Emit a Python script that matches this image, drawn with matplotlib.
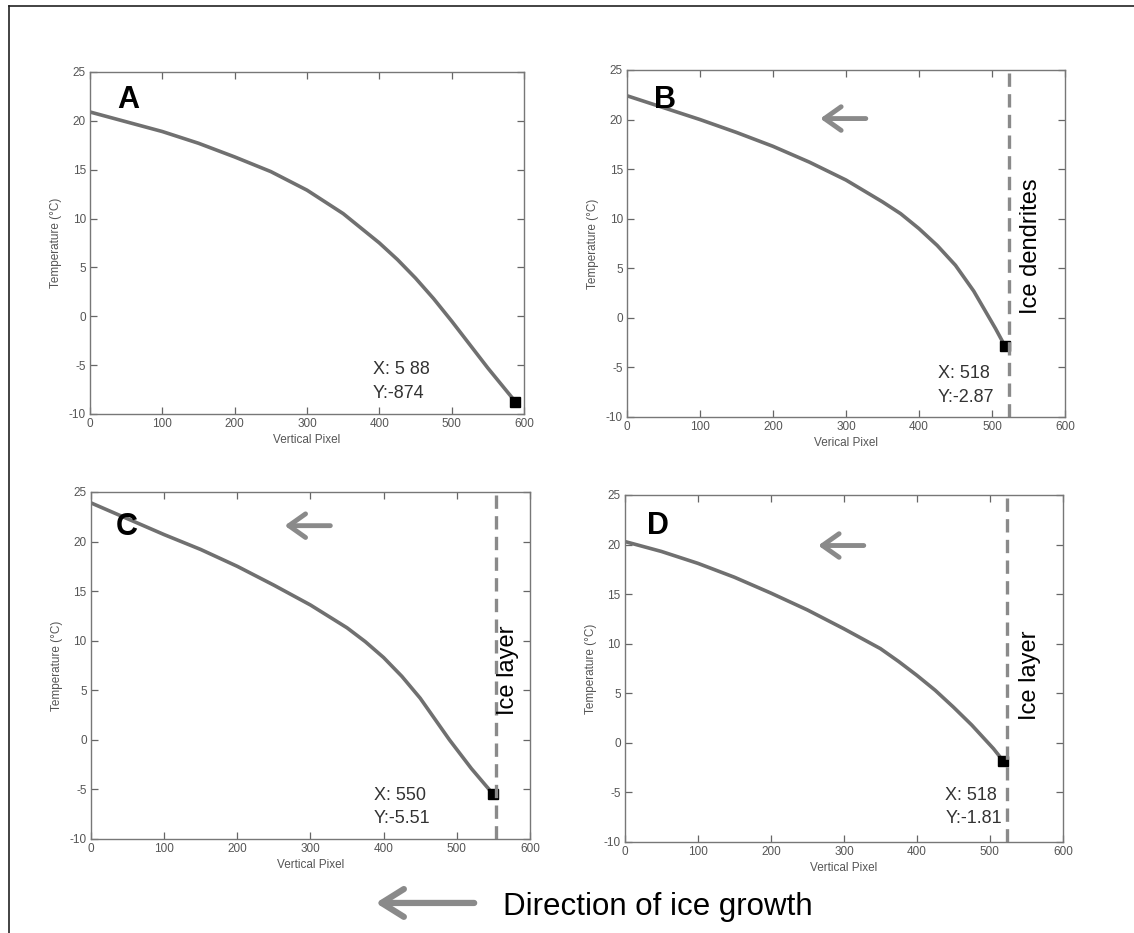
import matplotlib
matplotlib.use("Agg")
import matplotlib.pyplot as plt
from matplotlib.lines import Line2D
from matplotlib.patches import FancyArrowPatch

plt.rcParams["font.family"] = ["Liberation Sans", "DejaVu Sans"]
plt.rcParams["axes.unicode_minus"] = False

# ── data ───────────────────────────────────────────────────────────
a_x = [0, 50, 100, 150, 200, 250, 300, 350, 400, 425, 450, 475, 500, 550, 588]
a_y = [20.9, 19.9, 18.9, 17.7, 16.3, 14.8, 12.9, 10.5, 7.5, 5.8, 3.9, 1.8, -0.5, -5.3, -8.74]

b_x = [0, 50, 100, 150, 200, 250, 300, 350, 375, 400, 425, 450, 475, 490, 505, 518]
b_y = [22.4, 21.2, 20.0, 18.7, 17.3, 15.7, 13.9, 11.7, 10.5, 9.0, 7.3, 5.3, 2.7, 0.8, -1.1, -2.87]

c_x = [0, 50, 100, 150, 200, 250, 300, 350, 375, 400, 425, 450, 470, 490, 520, 550]
c_y = [23.9, 22.3, 20.7, 19.2, 17.5, 15.6, 13.6, 11.3, 9.9, 8.3, 6.4, 4.2, 2.1, 0.0, -2.9, -5.51]

d_x = [0, 50, 100, 150, 200, 250, 300, 350, 375, 400, 425, 450, 475, 490, 505, 518]
d_y = [20.3, 19.3, 18.1, 16.7, 15.1, 13.4, 11.5, 9.5, 8.2, 6.8, 5.3, 3.6, 1.8, 0.6, -0.6, -1.81]

panel_letters = ["A", "B", "C", "D"]
cursor_texts = ["X: 5 88\nY:-874", "X: 518\nY:-2.87", "X: 550\nY:-5.51", "X: 518\nY:-1.81"]
x_labels = ["Vertical Pixel", "Verical Pixel", "Vertical Pixel", "Vertical Pixel"]
boundary_x = [None, 524, 553, 524]
boundary_labels = [None, "Ice dendrites", "Ice layer", "Ice layer"]

# ── layout (from the picture) ──────────────────────────────────────
positions = [
    [0.0794, 0.5563, 0.3827, 0.3666],
    [0.5529, 0.5531, 0.3862, 0.3719],
    [0.0802, 0.1008, 0.3871, 0.3719],
    [0.5511, 0.0976, 0.3862, 0.3719],
]
letter_pos = [(38, 22.1), (37, 22.0), (34, 21.5), (30, 21.9)]
cursor_pos = [(391, -6.7), (426, -6.85), (387, -6.8), (439, -6.5)]
label_pos = [None, (553, 7.25), (570, 7.0), (555, 6.8)]
arrow_y = [None, 20.1, 21.6, 19.9]

curve_color = "#707070"
grey = "#8a8a8a"

fig = plt.figure(figsize=(11.34, 9.33), dpi=100)

series = [(a_x, a_y), (b_x, b_y), (c_x, c_y), (d_x, d_y)]
for i, (xs, ys) in enumerate(series):
    ax = fig.add_axes(positions[i])
    ax.plot(xs, ys, color=curve_color, lw=2.6, solid_capstyle="round",
            solid_joinstyle="round")
    ax.plot(xs[-1], ys[-1], marker="s", color="black", ms=7, ls="none")

    ax.set_xlim(0, 600)
    ax.set_ylim(-10, 25)
    ax.set_xticks(range(0, 601, 100))
    ax.set_yticks(range(-10, 26, 5))
    ax.tick_params(direction="in", top=True, right=True, length=5, width=0.9,
                   color="#666", labelsize=8.5, labelcolor="#555", pad=3)
    for sp in ax.spines.values():
        sp.set_color("#777")
        sp.set_linewidth(1.0)
    ax.set_xlabel(x_labels[i], fontsize=8.5, color="#555", labelpad=3)
    ax.set_ylabel("Temperature (°C)", fontsize=8.5, color="#555", labelpad=5)

    ax.text(letter_pos[i][0], letter_pos[i][1], panel_letters[i], fontsize=22,
            fontweight="bold", ha="left", va="center", color="black")
    ax.text(cursor_pos[i][0], cursor_pos[i][1], cursor_texts[i], fontsize=13,
            ha="left", va="center", color="#333", linespacing=1.5)

    if boundary_x[i] is not None:
        ax.axvline(boundary_x[i], color=grey, lw=2.4, dashes=(4, 2.2))
        ax.text(label_pos[i][0], label_pos[i][1], boundary_labels[i], fontsize=17,
                rotation=90, ha="center", va="center", color="black")
        ax.annotate("", xy=(261, arrow_y[i]), xytext=(331, arrow_y[i]),
                    arrowprops=dict(arrowstyle="->,head_length=1.2,head_width=0.85",
                                    lw=3.5, color=grey, mutation_scale=10))

# ── bottom caption with arrow ──────────────────────────────────────
fig.add_artist(FancyArrowPatch(
    (0.4206, 0.0322), (0.3289, 0.0322), transform=fig.transFigure,
    arrowstyle="->,head_length=1.6,head_width=1.0", lw=4.5, color=grey,
    mutation_scale=10))
fig.text(0.4436, 0.0193, "Direction of ice growth", fontsize=22.5,
         ha="left", va="baseline", color="black")

# frame lines (left and top only)
fig.add_artist(Line2D([0.0075, 0.0075], [0, 0.9936], transform=fig.transFigure,
                      color="#222", lw=1.2))
fig.add_artist(Line2D([0.0075, 1.0], [0.9936, 0.9936], transform=fig.transFigure,
                      color="#222", lw=1.2))

fig.savefig("out.png", dpi=100)
